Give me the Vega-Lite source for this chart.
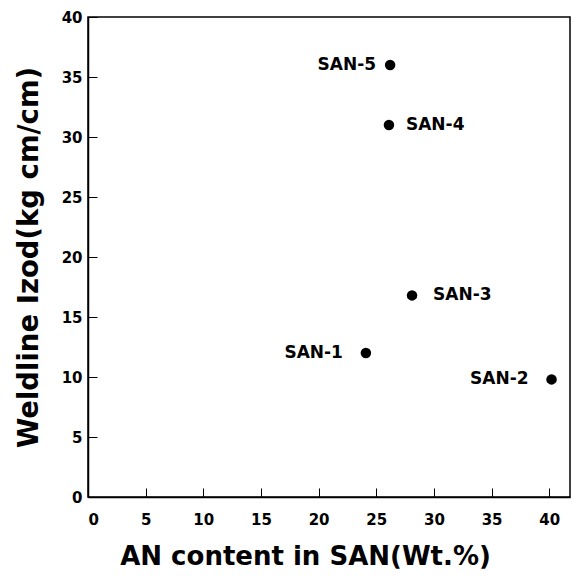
{
  "$schema": "https://vega.github.io/schema/vega-lite/v6.json",
  "width": 482,
  "height": 480,
  "autosize": "none",
  "padding": {"left": 88, "top": 17, "right": 5, "bottom": 86},
  "background": "white",
  "config": {
    "view": {"stroke": "black", "strokeWidth": 1.5},
    "font": "DejaVu Sans",
    "axis": {
      "domainColor": "black",
      "domainWidth": 1.5,
      "tickColor": "black",
      "tickWidth": 1,
      "tickSize": -9,
      "grid": false,
      "labelFont": "DejaVu Sans",
      "labelFontWeight": "bold",
      "labelFontSize": 15,
      "labelColor": "black",
      "titleFont": "DejaVu Sans",
      "titleFontWeight": "bold",
      "titleFontSize": 26,
      "titleColor": "black"
    }
  },
  "data": {
    "values": [
      {"an": 24.1, "izod": 12, "label": "SAN-1"},
      {"an": 40.2, "izod": 9.8, "label": "SAN-2"},
      {"an": 28.1, "izod": 16.8, "label": "SAN-3"},
      {"an": 26.1, "izod": 31, "label": "SAN-4"},
      {"an": 26.2, "izod": 36, "label": "SAN-5"}
    ]
  },
  "encoding": {
    "x": {
      "field": "an",
      "type": "quantitative",
      "scale": {"domain": [0, 41.8], "nice": false, "zero": false},
      "axis": {
        "values": [0, 5, 10, 15, 20, 25, 30, 35, 40],
        "title": "AN content in SAN(Wt.%)",
        "labelPadding": 24,
        "titlePadding": 16,
        "titleX": 217
      }
    },
    "y": {
      "field": "izod",
      "type": "quantitative",
      "scale": {"domain": [0, 40], "nice": false},
      "axis": {
        "values": [0, 5, 10, 15, 20, 25, 30, 35, 40],
        "title": "Weldline Izod(kg cm/cm)",
        "titleFontSize": 27.5,
        "labelPadding": 15,
        "titlePadding": 18
      }
    }
  },
  "layer": [
    {"mark": {"type": "point", "filled": true, "color": "black", "opacity": 1, "size": 110}},
    {
      "transform": [{"filter": "datum.label == 'SAN-5'"}],
      "mark": {"type": "text", "align": "right", "baseline": "middle", "dx": -14, "fontSize": 17, "fontWeight": "bold", "color": "black"},
      "encoding": {"text": {"field": "label"}}
    },
    {
      "transform": [{"filter": "datum.label == 'SAN-1' || datum.label == 'SAN-2'"}],
      "mark": {"type": "text", "align": "right", "baseline": "middle", "dx": -23, "fontSize": 17, "fontWeight": "bold", "color": "black"},
      "encoding": {"text": {"field": "label"}}
    },
    {
      "transform": [{"filter": "datum.label == 'SAN-4'"}],
      "mark": {"type": "text", "align": "left", "baseline": "middle", "dx": 17, "fontSize": 17, "fontWeight": "bold", "color": "black"},
      "encoding": {"text": {"field": "label"}}
    },
    {
      "transform": [{"filter": "datum.label == 'SAN-3'"}],
      "mark": {"type": "text", "align": "left", "baseline": "middle", "dx": 21, "fontSize": 17, "fontWeight": "bold", "color": "black"},
      "encoding": {"text": {"field": "label"}}
    }
  ]
}
